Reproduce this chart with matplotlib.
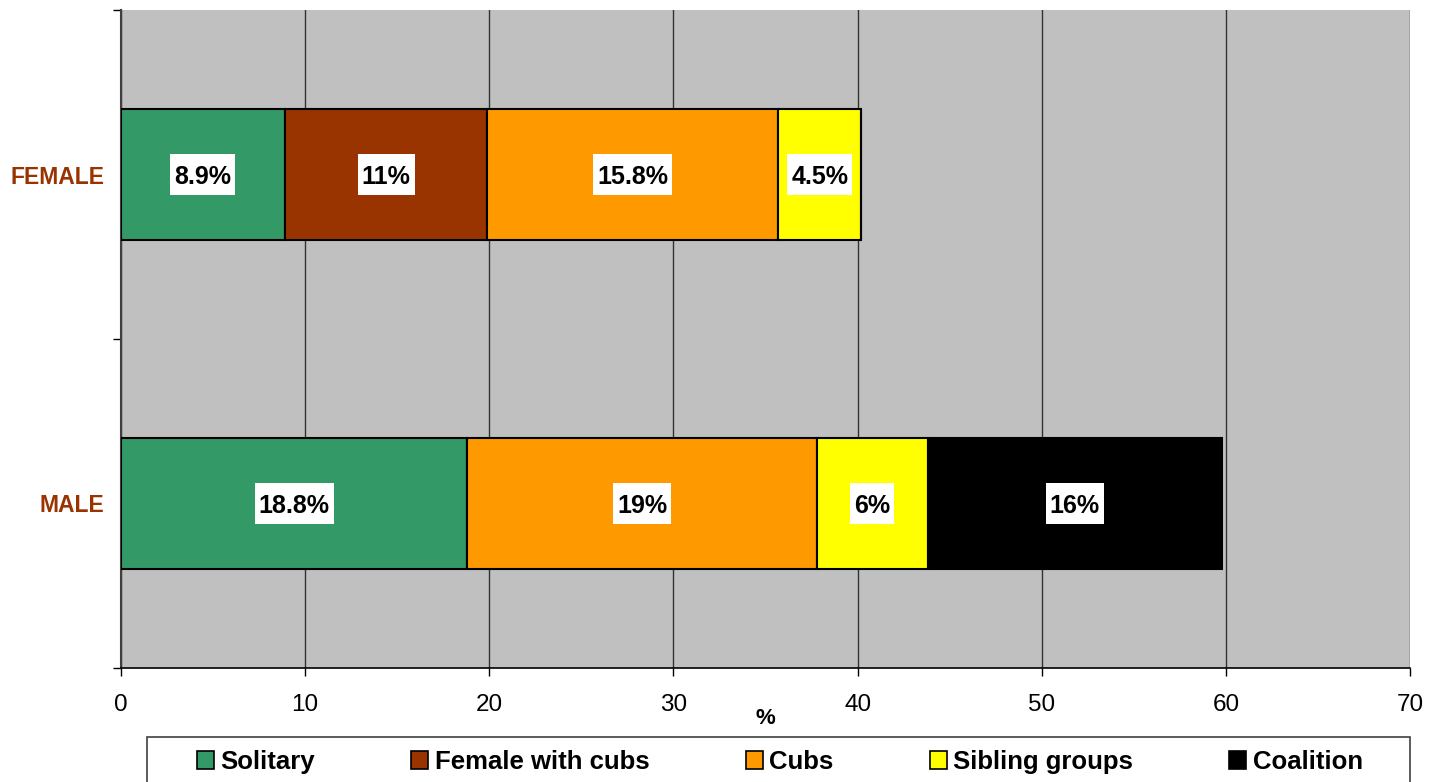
import matplotlib
matplotlib.use("Agg")
import matplotlib.pyplot as plt
import matplotlib.transforms as mtransforms
import numpy as np
from matplotlib.patches import Patch, Rectangle

plt.rcParams['font.family'] = ['Liberation Sans', 'DejaVu Sans']

categories = ["MALE", "FEMALE"]
series = ["Solitary", "Female with cubs", "Cubs", "Sibling groups", "Coalition"]
values = {
    "Solitary":         [18.8, 8.9],
    "Female with cubs": [0.0, 11.0],
    "Cubs":             [19.0, 15.8],
    "Sibling groups":   [6.0, 4.5],
    "Coalition":        [16.0, 0.0],
}
colors = ["#339966", "#993300", "#FF9900", "#FFFF00", "#000000"]
xticks = [0, 10, 20, 30, 40, 50, 60, 70]

W, H = 1439, 782
fig = plt.figure(figsize=(W / 100, H / 100), dpi=100)
ax = fig.add_axes([121 / W, 1 - 668 / H, (1410 - 121) / W, (668 - 10) / H])
ax.set_facecolor("#C0C0C0")

y = np.arange(len(categories))
left = np.zeros(len(categories))
labels = []
for s, c in zip(series, colors):
    v = np.array(values[s])
    bars = ax.barh(y, v, left=left, height=0.4, color=c, edgecolor="black",
                   linewidth=1.5, zorder=3)
    for b, val in zip(bars, v):
        if val > 0:
            tr = mtransforms.offset_copy(ax.transData, fig=fig, x=0, y=-1.5, units="points")
            t = ax.text(b.get_x() + b.get_width() / 2, b.get_y() + b.get_height() / 2,
                        f"{val:g}%", ha="center", va="center", fontsize=18,
                        fontweight="bold", color="black", zorder=6, transform=tr)
            labels.append((t, b.get_x() + b.get_width() / 2, b.get_y() + b.get_height() / 2))
    left += v

ax.set_xlim(0, 70)
ax.set_ylim(-0.5, 1.5)
ax.set_xticks(xticks)
ax.set_xticklabels([str(t) for t in xticks], fontsize=17.5)
ax.tick_params(axis="x", direction="out", length=6, width=1, pad=13, colors="black")
ax.xaxis.grid(True, color="#333333", linewidth=1, zorder=1)
ax.set_axisbelow(True)

ax.set_yticks(y)
ax.set_yticklabels(categories, fontsize=16.5, fontweight="bold", color="#993300")
ax.set_yticks([-0.5, 0.5, 1.5], minor=True)
ax.tick_params(axis="y", which="major", length=0, pad=12)
ax.tick_params(axis="y", which="minor", length=6, width=1, direction="out")

for sp in ["top", "right"]:
    ax.spines[sp].set_visible(False)
ax.spines["left"].set_color("#404040")
ax.spines["left"].set_linewidth(1.5)
ax.spines["bottom"].set_color("black")
ax.spines["bottom"].set_linewidth(1.2)

ax.set_xlabel("%", fontsize=16, fontweight="bold", labelpad=-6)

# legend frame
fig.patches.append(Rectangle((147 / W, -0.05), (1410 - 147) / W, 1 - 737 / H + 0.05,
                             transform=fig.transFigure, facecolor="white",
                             edgecolor="#404040", linewidth=1.2, zorder=0))
handles = [Patch(facecolor=c, edgecolor="black", linewidth=1.2) for c in colors]
leg = fig.legend(handles, series, loc="center left",
                 bbox_to_anchor=(197 / W, 1 - 762 / H, (1363 - 197) / W, 0),
                 mode="expand", ncol=5, frameon=False,
                 prop=dict(size=18.5, weight="bold"), handlelength=0.66,
                 handleheight=0.66, handletextpad=0.25, borderpad=0,
                 borderaxespad=0)

# white label boxes sized like the reference
fig.canvas.draw()
r = fig.canvas.get_renderer()
inv = ax.transData
for t, cx, cy in labels:
    bb = t.get_window_extent(r)
    px, py = ax.transData.transform((cx, cy))
    x0 = bb.x0 - 4
    w = bb.width + 8
    y0 = py - 20.5
    rect = Rectangle((x0, y0), w, 41, transform=None, facecolor="white",
                     edgecolor="none", zorder=5)
    ax.add_artist(rect)

fig.savefig("out.png", dpi=100)
